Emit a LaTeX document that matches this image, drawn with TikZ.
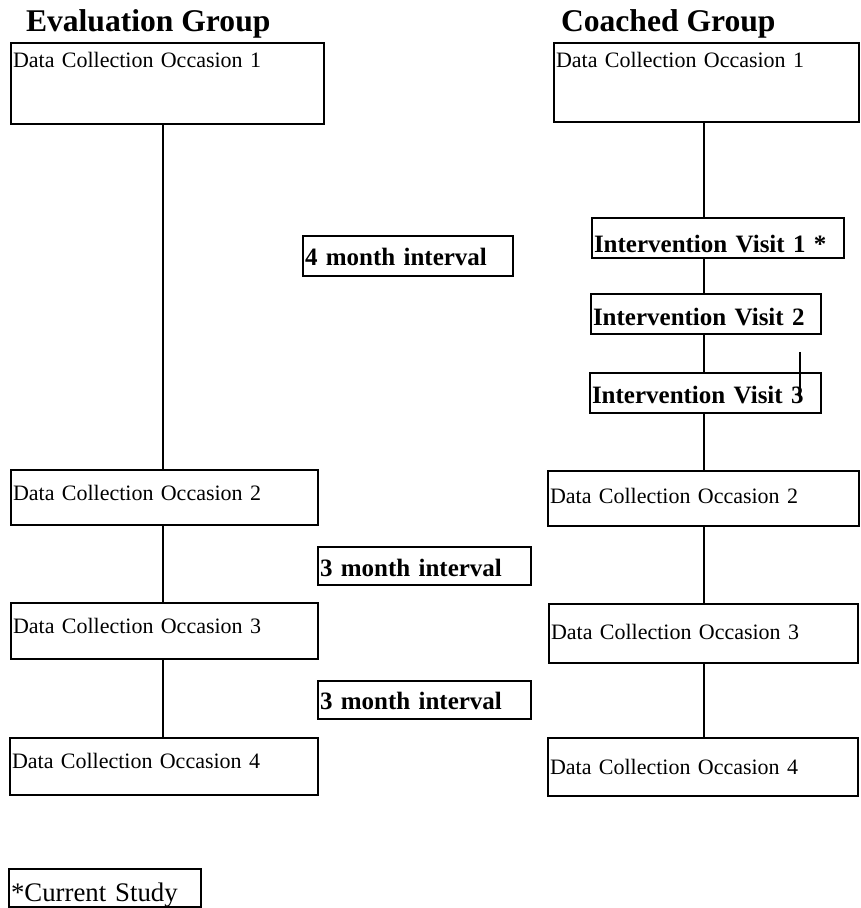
\documentclass[tikz,border=0pt]{standalone}
\usepackage{fontspec}
\setmainfont{Liberation Serif}

\begin{document}
\begin{tikzpicture}[x=0.5pt, y=-0.5pt, line width=1pt,
    box/.style={draw, anchor=north west, inner xsep=1pt, inner ysep=0pt, align=left},
    occ/.style={box, font=\fontsize{11pt}{13pt}\selectfont},
    gap/.style={box, font=\fontsize{12.5pt}{14pt}\selectfont\bfseries},
    head/.style={anchor=base west, inner sep=0pt, font=\fontsize{15.8pt}{18pt}\selectfont\bfseries}]
    \useasboundingbox (0,0) rectangle (860,908);

    % Column titles
    \node[head] (evalhead) at (25,32) {Evaluation Group};
    \node[head] (coachhead) at (560,32) {Coached Group};

    % Evaluation group
    \node[occ, text width=154.5pt, text height=12.5pt, text depth=28pt] (l1) at (10,42) {Data Collection Occasion 1};
    \node[occ, text width=151.5pt, text height=15pt, text depth=12.5pt] (l2) at (10,469) {Data Collection Occasion 2};
    \node[occ, text width=151.5pt, text height=15pt, text depth=13pt] (l3) at (10,602) {Data Collection Occasion 3};
    \node[occ, text width=152pt, text height=15pt, text depth=13.5pt] (l4) at (9,737) {Data Collection Occasion 4};

    % Intervals
    \node[gap, text width=103pt, text height=15pt, text depth=5pt] (int4) at (302,235) {4 month interval};
    \node[gap, text width=104.5pt, text height=14.5pt, text depth=4.5pt] (int3a) at (317,546) {3 month interval};
    \node[gap, text width=104.5pt, text height=14pt, text depth=5pt] (int3b) at (317,680) {3 month interval};

    % Coached group
    \node[occ, text width=150.5pt, text height=12.5pt, text depth=27pt] (r1) at (553,42) {Data Collection Occasion 1};
    \node[gap, text width=124pt, text height=17.5pt, text depth=2.5pt] (iv1) at (591,217) {Intervention Visit 1 *};
    \node[gap, text width=113pt, text height=16pt, text depth=4pt] (iv2) at (590,293) {Intervention Visit 2};
    \node[gap, text width=113.5pt, text height=15pt, text depth=5pt] (iv3) at (589,372) {Intervention Visit 3};
    \node[occ, text width=153.5pt, text height=16pt, text depth=11.5pt] (r2) at (547,470) {Data Collection Occasion 2};
    \node[occ, text width=152.5pt, text height=17.5pt, text depth=12pt] (r3) at (548,603) {Data Collection Occasion 3};
    \node[occ, text width=153pt, text height=18pt, text depth=11pt] (r4) at (547,737) {Data Collection Occasion 4};

    % Footnote
    \node[box, font=\fontsize{13.4pt}{15pt}\selectfont, text width=94pt, text height=16pt, text depth=3pt] (note) at (8,868) {*Current Study};

    % Time lines
    \coordinate (lline) at (163,0);
    \coordinate (rline) at (704,0);
    \draw (l1.south -| lline) -- (l2.north -| lline);
    \draw (l2.south -| lline) -- (l3.north -| lline);
    \draw (l3.south -| lline) -- (l4.north -| lline);
    \draw (r1.south -| rline) -- (iv1.north -| rline);
    \draw (iv1.south -| rline) -- (iv2.north -| rline);
    \draw (iv2.south -| rline) -- (iv3.north -| rline);
    \draw (iv3.south -| rline) -- (r2.north -| rline);
    \draw (r2.south -| rline) -- (r3.north -| rline);
    \draw (r3.south -| rline) -- (r4.north -| rline);

    % stray tick
    \draw (800,352) -- (800,397);
\end{tikzpicture}
\end{document}
